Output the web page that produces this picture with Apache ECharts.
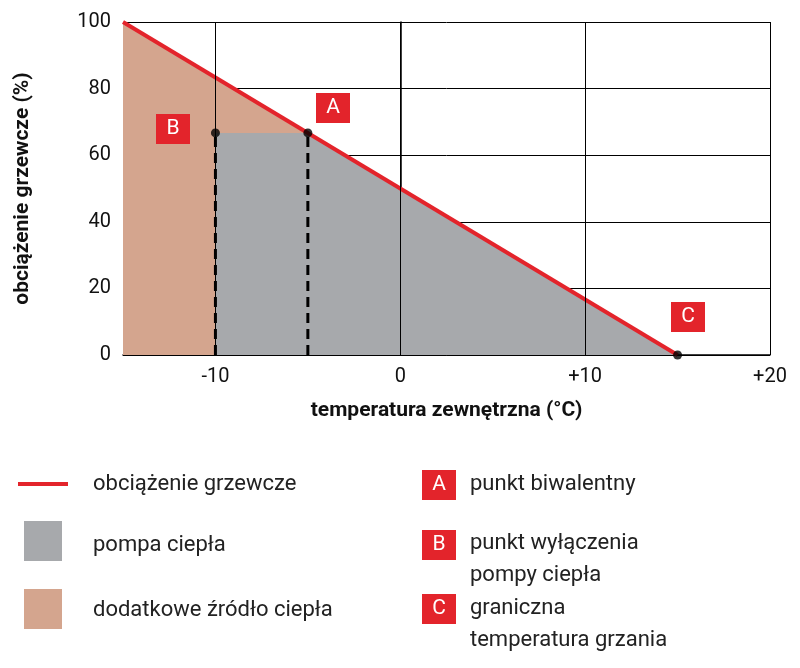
<!DOCTYPE html>
<html><head><meta charset="utf-8">
<script src="https://cdn.jsdelivr.net/npm/echarts@6/dist/echarts.min.js"></script>
<style>html,body{margin:0;background:#fff}#c{width:800px;height:668px}</style>
</head><body><div id="c"></div>
<script>
const heatLoad = [[-15,100],[15,0]];
const heatPump = [[-10,0],[-10,66.7],[-5,66.7],[15,0]];
const points = {A:[-5,66.7], B:[-10,66.7], C:[15,0]};
const xGrid = [-10,0,10,20];
const yTicks = [0,20,40,60,80,100];
const RED='#e3242b', GRAY='#a7a9ac', ORANGE='#d4a58e';
const F='Roboto, "Noto Sans", sans-serif';

const chart = echarts.init(document.getElementById('c'));
function box(x,y,t){return [
 {type:'rect',z:100,shape:{x:x,y:y,width:34,height:30},style:{fill:RED}},
 {type:'text',z:101,x:x+17,y:y+15,style:{text:t,fill:'#fff',font:'21px '+F,align:'center',verticalAlign:'middle'}}];}
function txt(x,y,t){return {type:'text',z:100,x:x,y:y,style:{text:t,fill:'#222',font:'22px '+F,verticalAlign:'middle'}};}
chart.setOption({
 animation:false,
 grid:{left:123,right:30,top:22,bottom:313},
 xAxis:{type:'value',min:-15,max:20,interval:5,
  name:'temperatura zewnętrzna (°C)',nameLocation:'middle',nameGap:45,
  nameTextStyle:{fontFamily:F,fontWeight:'bold',fontSize:21,color:'#111'},
  axisLine:{lineStyle:{color:'#000',width:1.5}},axisTick:{show:false},splitLine:{show:false},
  axisLabel:{fontFamily:F,fontSize:20,color:'#111',margin:12,
   formatter:v=>v%10===0?(v>0?'+'+v:String(v)):''}},
 yAxis:{type:'value',min:0,max:100,interval:20,
  name:'obciążenie grzewcze (%)',nameLocation:'middle',nameGap:90,
  nameTextStyle:{fontFamily:F,fontWeight:'bold',fontSize:21,color:'#111'},
  axisLine:{show:true,lineStyle:{color:'#000',width:1.5}},axisTick:{show:false},
  splitLine:{lineStyle:{color:'#000',width:1}},
  axisLabel:{fontFamily:F,fontSize:20,color:'#111',margin:12}},
 series:[
  {type:'line',data:heatLoad,symbol:'none',lineStyle:{width:0},areaStyle:{color:ORANGE,opacity:1},z:1,
   markLine:{silent:true,symbol:'none',label:{show:false},lineStyle:{color:'#000',width:1,type:'solid'},
    data:xGrid.map(v=>({xAxis:v}))}},
  {type:'line',data:heatPump,symbol:'none',lineStyle:{width:0},areaStyle:{color:GRAY,opacity:1},z:2},
  {type:'line',data:[[points.B[0],0],points.B],symbol:'none',lineStyle:{color:'#000',width:3,type:[10,6]},z:3},
  {type:'line',data:[[points.A[0],0],points.A],symbol:'none',lineStyle:{color:'#000',width:3,type:[10,6]},z:3},
  {type:'line',data:heatLoad,symbol:'none',lineStyle:{color:RED,width:4},z:4},
  {type:'scatter',data:[points.A,points.B,points.C],symbolSize:9,itemStyle:{color:'#000'},z:5}
 ],
 graphic:[
  ...box(316,93,'A'),...box(156,114,'B'),...box(671,302,'C'),
  {type:'line',z:100,shape:{x1:18,y1:484,x2:68,y2:484},style:{stroke:RED,lineWidth:4}},
  txt(93,484,'obciążenie grzewcze'),
  {type:'rect',z:100,shape:{x:24,y:521,width:38,height:40},style:{fill:GRAY}},
  txt(93,545,'pompa ciepła'),
  {type:'rect',z:100,shape:{x:24,y:589,width:38,height:40},style:{fill:ORANGE}},
  txt(93,610,'dodatkowe źródło ciepła'),
  ...box(422,470,'A'),txt(470,484,'punkt biwalentny'),
  ...box(422,530,'B'),txt(470,543,'punkt wyłączenia'),txt(470,575,'pompy ciepła'),
  ...box(422,594,'C'),txt(470,608,'graniczna'),txt(470,640,'temperatura grzania')
 ]
});
</script></body></html>
